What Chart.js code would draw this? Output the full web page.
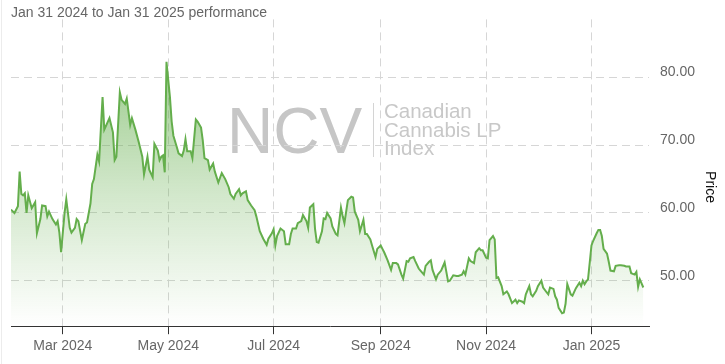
<!DOCTYPE html>
<html>
<head>
<meta charset="utf-8">
<script src="https://cdn.jsdelivr.net/npm/chart.js@4.4.1/dist/chart.umd.min.js"></script>
<style>
  html, body { margin: 0; padding: 0; background: #fff; }
  #wrap { width: 725px; height: 364px; }
</style>
</head>
<body>
<div id="wrap"><canvas id="chart" width="725" height="364"></canvas></div>
<script>
// days counted from Jan 31 2024
const days = [
  0, 2, 4, 5, 6, 7, 8, 9, 10, 12, 14, 15, 17, 18, 20, 21, 22, 24, 26, 27, 28, 29,
  31, 32, 34, 35, 37, 38, 39, 41, 43, 44, 46, 47, 48, 50, 51, 53, 54, 57, 59, 60,
  61, 63, 64, 66, 67, 69, 70, 72, 74, 76, 77, 79, 80, 82, 83, 85, 86, 87, 88, 89,
  90, 92, 93, 94, 96, 97, 99, 100, 101, 102, 104, 105, 107, 108, 110, 111, 112, 114,
  115, 117, 118, 120, 121, 122, 124, 126, 127, 129, 130, 132, 133, 134, 136, 137,
  139, 141, 142, 144, 146, 148, 149, 151, 152, 153, 154, 156, 158, 159, 161, 162,
  163, 165, 166, 168, 169, 171, 172, 173, 175, 176, 177, 178, 180, 181, 182, 183,
  185, 186, 188, 189, 191, 192, 193, 195, 197, 198, 199, 201, 202, 204, 205, 206,
  208, 209, 211, 212, 214, 215, 216, 218, 220, 221, 223, 224, 226, 227, 229, 230,
  231, 233, 234, 236, 237, 239, 240, 242, 243, 244, 246, 247, 249, 250, 251, 253,
  254, 256, 258, 259, 261, 262, 263, 265, 266, 268, 269, 271, 272, 273, 275, 276,
  277, 279, 280, 281, 282, 284, 285, 287, 288, 290, 292, 293, 294, 296, 297, 298,
  300, 301, 302, 304, 305, 307, 308, 310, 311, 312, 314, 315, 316, 317, 319, 320,
  321, 322, 324, 325, 327, 329, 330, 331, 332, 333, 334, 336, 337, 339, 340, 341,
  342, 343, 345, 346, 347, 349, 350, 352, 353, 355, 356, 358, 359, 361, 362, 363,
  364, 365, 366
];
const prices = [
  60.5, 60.0, 61.0, 66.1, 62.8, 62.6, 62.9, 60.0, 62.6, 60.7, 61.6, 57.0, 59.1, 61.1, 61.0, 59.5, 60.2, 59.1, 58.3, 58.8, 57.1, 54.2,
  60.0, 62.0, 57.8, 57.1, 57.8, 59.1, 58.8, 56.0, 58.4, 58.6, 61.4, 64.3, 65.0, 68.6, 67.6, 77.1, 72.3, 74.0, 71.9, 67.8,
  68.3, 77.8, 76.7, 76.1, 76.9, 73.0, 74.0, 72.3, 70.4, 68.3, 65.7, 68.3, 66.4, 65.3, 70.2, 69.2, 67.8, 68.3, 68.5, 66.0,
  82.3, 77.1, 73.5, 71.4, 69.7, 68.8, 68.4, 69.2, 70.9, 69.1, 69.1, 68.1, 73.8, 73.5, 72.6, 70.7, 68.1, 67.8,
  66.4, 67.3, 66.1, 64.5, 65.2, 65.9, 65.0, 63.8, 62.8, 62.1, 62.8, 63.5, 62.6, 62.9, 63.2, 61.9,
  61.1, 60.4, 59.5, 57.3, 56.2, 55.3, 56.2, 57.0, 57.6, 55.2, 56.6, 57.7, 57.3, 55.4, 55.4, 56.9,
  57.7, 57.7, 58.5, 58.8, 59.7, 58.8, 57.8, 60.8, 61.3, 57.6, 55.7, 55.6, 57.3, 59.2, 59.1, 60.0,
  59.2, 58.0, 56.9, 56.7, 60.8, 59.5, 58.5, 61.9, 62.4, 62.3, 60.2, 59.0, 57.3, 59.0, 56.9, 56.9,
  56.1, 55.2, 53.5, 54.7, 55.2, 54.7, 54.2, 53.0, 51.6, 52.6, 52.6, 52.4, 50.9, 50.3, 52.9, 52.8,
  53.3, 53.5, 52.9, 51.8, 51.5, 50.9, 52.2, 52.8, 53.0, 51.6, 50.2, 50.9, 51.5, 52.1, 52.7, 49.9,
  50.0, 50.8, 50.7, 50.7, 50.9, 51.4, 50.9, 53.3, 52.9, 52.6, 54.2, 54.8, 54.5, 54.5, 53.4, 53.3,
  56.0, 56.6, 56.1, 50.4, 50.5, 49.2, 48.0, 48.4, 48.0, 46.7, 47.2, 46.7, 47.1, 46.9, 46.7, 48.0,
  49.2, 48.0, 47.7, 48.5, 49.2, 50.0, 49.0, 48.3, 48.0, 49.0, 48.8, 47.7, 47.2, 46.0, 45.2, 45.3,
  46.6, 49.5, 48.0, 47.8, 48.9, 49.7, 49.2, 50.0, 49.5, 49.9, 50.2, 55.2, 55.9, 57.0, 57.5, 57.5,
  56.6, 54.7, 54.0, 52.8, 51.5, 51.4, 52.2, 52.3, 52.3, 52.2, 52.1, 52.1, 51.1, 50.9, 51.3, 49.1,
  50.2, 49.6, 49.0
];

const monthTicks = [30, 91, 152, 214, 275, 336];
const monthLabels = ['Mar 2024', 'May 2024', 'Jul 2024', 'Sep 2024', 'Nov 2024', 'Jan 2025'];
const priceTicks = [50, 60, 70, 80];

const titleText = 'Jan 31 2024 to Jan 31 2025 performance';
const axisTitle = 'Price';
const markBig = 'NCV';
const markLines = ['Canadian', 'Cannabis LP', 'Index'];

const FONT = '"Liberation Sans", Arial, sans-serif';
const GREEN = '#64ae4c';

// watermark + left edge + rotated axis title
const decorPlugin = {
  id: 'decor',
  beforeDraw(chart) {
    const ctx = chart.ctx;
    ctx.save();
    ctx.strokeStyle = '#ececec';
    ctx.lineWidth = 1;
    ctx.beginPath();
    ctx.moveTo(1.5, 0);
    ctx.lineTo(1.5, chart.height);
    ctx.stroke();

    ctx.fillStyle = '#c6c6c6';
    ctx.font = '64px ' + FONT;
    ctx.textBaseline = 'alphabetic';
    ctx.fillText(markBig, 227, 153);

    ctx.strokeStyle = '#d4d4d4';
    ctx.beginPath();
    ctx.moveTo(373.5, 103);
    ctx.lineTo(373.5, 157);
    ctx.stroke();

    ctx.fillStyle = '#c8c8c8';
    ctx.font = '20.5px ' + FONT;
    markLines.forEach((t, i) => ctx.fillText(t, 384, 118 + i * 18.5));
    ctx.restore();
  },
  afterDraw(chart) {
    const ctx = chart.ctx;
    ctx.save();
    ctx.translate(710, 187);
    ctx.rotate(Math.PI / 2);
    ctx.fillStyle = '#111';
    ctx.font = '14px ' + FONT;
    ctx.textAlign = 'center';
    ctx.textBaseline = 'middle';
    ctx.fillText(axisTitle, 0, 0);
    ctx.restore();
  }
};

const ctx = document.getElementById('chart').getContext('2d');

new Chart(ctx, {
  type: 'line',
  data: {
    datasets: [{
      label: axisTitle,
      data: days.map((d, i) => ({ x: d, y: prices[i] })),
      borderColor: GREEN,
      borderWidth: 2,
      pointRadius: 0,
      tension: 0,
      fill: 'start',
      backgroundColor: (c) => {
        const area = c.chart.chartArea;
        if (!area) return 'rgba(100,174,76,0.3)';
        const g = c.chart.ctx.createLinearGradient(0, area.top, 0, area.bottom);
        g.addColorStop(0, 'rgba(100,174,76,0.75)');
        g.addColorStop(0.55, 'rgba(100,174,76,0.3)');
        g.addColorStop(1, 'rgba(100,174,76,0.0)');
        return g;
      }
    }]
  },
  options: {
    responsive: false,
    animation: false,
    devicePixelRatio: 1,
    layout: { padding: { left: 11, right: 0, top: 0, bottom: 5 } },
    plugins: {
      legend: { display: false },
      tooltip: { enabled: false },
      title: {
        display: true,
        text: titleText,
        align: 'start',
        color: '#666',
        font: { family: FONT, size: 14, weight: 'normal', lineHeight: 13 / 14 },
        padding: { top: 0, bottom: 0 }
      }
    },
    scales: {
      x: {
        type: 'linear',
        min: 0,
        max: 369.3,
        afterBuildTicks: (s) => { s.ticks = monthTicks.map(v => ({ value: v })); },
        ticks: {
          autoSkip: false,
          maxRotation: 0,
          color: '#666',
          padding: 4,
          font: { family: FONT, size: 14 },
          callback: (v) => monthLabels[monthTicks.indexOf(v)]
        },
        grid: {
          color: '#d6d6d6',
          tickColor: '#333',
          tickLength: 8,
          tickBorderDash: []
        },
        border: { display: true, color: '#333', width: 1, dash: [8, 5] }
      },
      y: {
        position: 'right',
        min: 43.29,
        max: 88.57,
        afterBuildTicks: (s) => { s.ticks = priceTicks.map(v => ({ value: v })); },
        afterFit: (s) => { s.width = 76; },
        ticks: {
          color: '#666',
          padding: 11,
          labelOffset: -5,
          font: { family: FONT, size: 14 },
          callback: (v) => v.toFixed(2)
        },
        grid: { color: '#d6d6d6', drawTicks: false },
        border: { display: false, dash: [8, 5] }
      }
    }
  },
  plugins: [decorPlugin]
});
</script>
</body>
</html>
